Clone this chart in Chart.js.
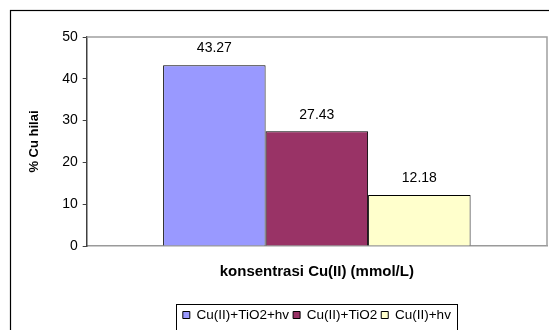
<!DOCTYPE html>
<html>
<head>
<meta charset="utf-8">
<style>
  html, body { margin: 0; padding: 0; background: #ffffff; }
  #wrap { width: 549px; height: 330px; position: relative; }
</style>
<script src="https://cdn.jsdelivr.net/npm/chart.js@4/dist/chart.umd.min.js"></script>
</head>
<body>
<div id="wrap"><canvas id="chart" width="549" height="330"></canvas></div>
<script>
// Removal of Cu(II) under three treatment conditions
const categories = [''];
const seriesNames = ['Cu(II)+TiO2+hv', 'Cu(II)+TiO2', 'Cu(II)+hv'];
const seriesValues = [[43.27], [27.43], [12.18]];
const seriesColors = ['#9999FF', '#993366', '#FFFFCC'];
const yTicks = [0, 10, 20, 30, 40, 50];

const FONT = "'Liberation Sans', Arial, sans-serif";

// outer frame of the figure, plot edges and legend box
const framePlugin = {
  id: 'frame',
  beforeDraw(chart) {
    const ctx = chart.ctx;
    ctx.save();
    ctx.fillStyle = '#ffffff';
    ctx.fillRect(0, 0, chart.width, chart.height);
    ctx.strokeStyle = '#000000';
    ctx.lineWidth = 1.2;
    ctx.strokeRect(10.5, 10.5, chart.width + 20, chart.height + 20);
    ctx.restore();
  },
  afterDraw(chart) {
    const ctx = chart.ctx;
    const a = chart.chartArea;
    ctx.save();
    ctx.strokeStyle = '#a0a0a0';
    ctx.lineWidth = 1.5;
    ctx.beginPath();
    ctx.moveTo(a.left, a.top);
    ctx.lineTo(a.right, a.top);
    ctx.lineTo(a.right, a.bottom);
    ctx.stroke();
    const lg = chart.legend;
    if (lg && lg.legendHitBoxes && lg.legendHitBoxes.length) {
      const hb = lg.legendHitBoxes;
      const first = hb[0], last = hb[hb.length - 1];
      const l = Math.round(first.left - 7) + 0.5;
      const r = Math.round(last.left + last.width + 6) + 0.5;
      const t = Math.round(first.top - 4) + 0.5;
      ctx.strokeStyle = '#000000';
      ctx.lineWidth = 1;
      ctx.strokeRect(l, t, r - l, chart.height + 20 - t);
    }
    ctx.restore();
  }
};

// value labels above each bar
const valueLabels = {
  id: 'valueLabels',
  afterDatasetsDraw(chart) {
    const ctx = chart.ctx;
    ctx.save();
    ctx.font = '14px ' + FONT;
    ctx.fillStyle = '#000000';
    ctx.textAlign = 'center';
    ctx.textBaseline = 'middle';
    chart.data.datasets.forEach((ds, i) => {
      const meta = chart.getDatasetMeta(i);
      meta.data.forEach((bar, j) => {
        ctx.fillText(ds.data[j].toFixed(2), bar.x, bar.y - 16.5);
      });
    });
    ctx.restore();
  }
};

const datasets = seriesNames.map((name, i) => ({
  label: name,
  data: seriesValues[i],
  backgroundColor: seriesColors[i],
  borderColor: '#000000',
  borderWidth: 1,
  categoryPercentage: 0.668,
  barPercentage: 1.0
}));

new Chart(document.getElementById('chart'), {
  type: 'bar',
  data: { labels: categories, datasets },
  plugins: [framePlugin, valueLabels],
  options: {
    responsive: false,
    animation: false,
    devicePixelRatio: 1,
    layout: { padding: { top: 37, right: 2, bottom: -1.75, left: 0 } },
    plugins: {
      tooltip: { enabled: false },
      legend: {
        position: 'bottom',
        fullSize: false,
        align: 'center',
        labels: {
          font: { family: FONT, size: 13.5 },
          color: '#000000',
          boxWidth: 7,
          boxHeight: 7,
          padding: 4
        }
      }
    },
    scales: {
      x: {
        grid: { display: true, drawOnChartArea: false, drawTicks: false },
        border: { color: '#9a9a9a', width: 1.5 },
        ticks: { display: false },
        title: {
          display: true,
          text: 'konsentrasi Cu(II) (mmol/L)',
          font: { family: FONT, size: 15, weight: 'bold' },
          color: '#000000',
          padding: { top: 0, bottom: 23.25 }
        },
        afterFit(scale) { scale.height = 58.25; }
      },
      y: {
        min: 0,
        max: 50,
        afterBuildTicks(scale) { scale.ticks = yTicks.map(v => ({ value: v })); },
        grid: { display: true, drawOnChartArea: false, drawTicks: true, tickLength: 4, color: '#404040' },
        border: { color: '#404040', width: 1.5 },
        ticks: {
          font: { family: FONT, size: 14 },
          color: '#000000',
          padding: 5
        },
        title: {
          display: true,
          text: '% Cu hilai',
          font: { family: FONT, size: 13, weight: 'bold' },
          color: '#000000',
          padding: { top: 27, bottom: 0 }
        },
        afterFit(scale) { scale.width = 86.7; }
      }
    }
  }
});
</script>
</body>
</html>
